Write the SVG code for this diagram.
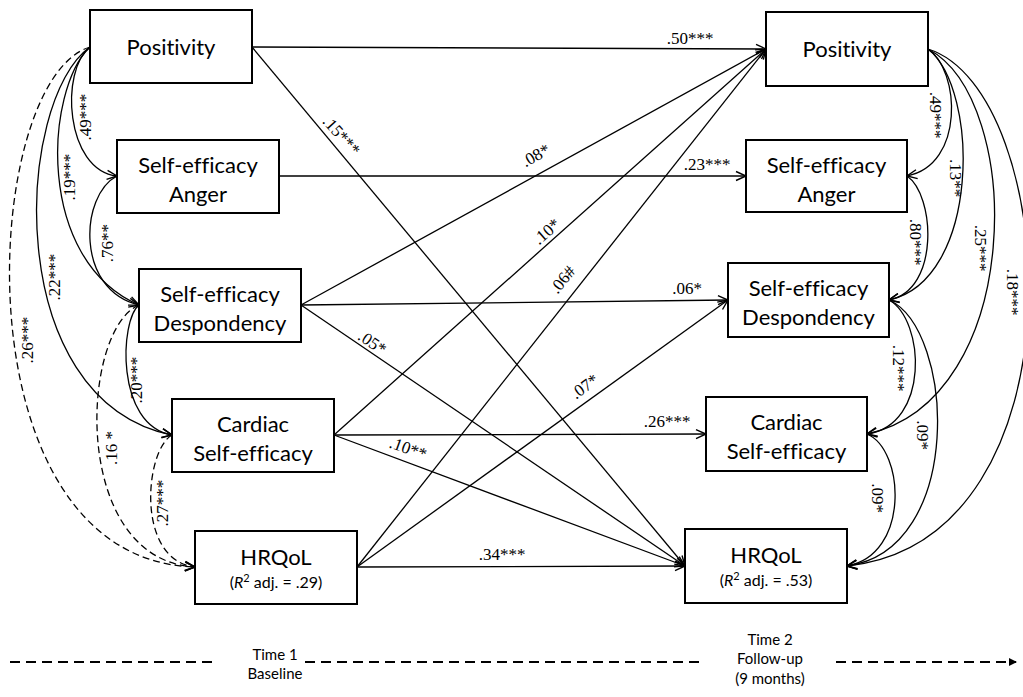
<svg xmlns="http://www.w3.org/2000/svg" width="1023" height="697" viewBox="0 0 1023 697">
  <style>
    .box { fill: #fff; stroke: #000; stroke-width: 2; }
    .nt { font-family: Lato, "Open Sans", "Liberation Sans", sans-serif; font-size: 22px; fill: #000; text-anchor: middle; font-variant-ligatures: none; }
    .r2 { font-family: Lato, "Open Sans", "Liberation Sans", sans-serif; font-size: 16px; fill: #000; text-anchor: middle; }
    .ln { fill: none; stroke: #000; stroke-width: 1.3; marker-end: url(#arr); }
    .cv { fill: none; stroke: #000; stroke-width: 1.3; marker-end: url(#arr); }
    .dcv { fill: none; stroke: #000; stroke-width: 1.3; stroke-dasharray: 7 4; marker-end: url(#arr); }
    .lb { font-family: "Liberation Serif", "Times New Roman", serif; font-size: 17px; fill: #000; text-anchor: middle; }
    .tl { fill: none; stroke: #000; stroke-width: 2; stroke-dasharray: 10 6; }
    .tt { font-family: Lato, "Open Sans", "Liberation Sans", sans-serif; font-size: 15px; fill: #000; text-anchor: middle; }
  </style>
  <defs>
    <marker id="arr" viewBox="0 0 12 10" refX="11" refY="5" markerWidth="12" markerHeight="10" markerUnits="userSpaceOnUse" orient="auto" overflow="visible">
      <path d="M1,0.5 L11,5 L1,9.5" fill="none" stroke="#000" stroke-width="1.4"/>
    </marker>
    <marker id="tarr" viewBox="0 0 8 8" refX="7" refY="4" markerWidth="8" markerHeight="8" markerUnits="userSpaceOnUse" orient="auto">
      <path d="M0,0 L8,4 L0,8 Z" fill="#000"/>
    </marker>
  </defs>

  <!-- connectors -->
  <g id="connectors">
    <!-- cross-lagged paths, Time 1 to Time 2 -->
    <line class="ln" x1="252" y1="47" x2="766" y2="49"/>
    <line class="ln" x1="252" y1="47" x2="685" y2="566"/>
    <line class="ln" x1="279" y1="176" x2="746" y2="176"/>
    <line class="ln" x1="301" y1="305" x2="766" y2="49"/>
    <line class="ln" x1="301" y1="305" x2="728" y2="300"/>
    <line class="ln" x1="301" y1="305" x2="685" y2="566"/>
    <line class="ln" x1="334" y1="435" x2="766" y2="49"/>
    <line class="ln" x1="334" y1="435" x2="706" y2="434"/>
    <line class="ln" x1="334" y1="435" x2="685" y2="566"/>
    <line class="ln" x1="357" y1="567" x2="766" y2="49"/>
    <line class="ln" x1="357" y1="567" x2="728" y2="300"/>
    <line class="ln" x1="357" y1="567" x2="685" y2="566"/>

    <!-- Time 1 associations -->
    <path class="cv" d="M90,47 C60,70 65,170 117,176"/>
    <path class="cv" d="M90,47 C45,90 35,260 139,305"/>
    <path class="cv" d="M90,47 C15,100 0,400 172,435"/>
    <path class="dcv" d="M90,47 C-20,80 -45,560 195,567"/>
    <path class="cv" d="M117,176 C80,195 75,290 139,305"/>
    <path class="cv" d="M139,305 C120,320 115,425 172,435"/>
    <path class="dcv" d="M139,305 C80,330 70,560 195,567"/>
    <path class="dcv" d="M172,435 C145,450 135,560 195,567"/>

    <!-- Time 2 associations -->
    <path class="cv" d="M928,49 C960,70 965,165 907,176"/>
    <path class="cv" d="M928,49 C980,90 980,280 889,300"/>
    <path class="cv" d="M928,49 C1025,100 1025,400 867,434"/>
    <path class="cv" d="M928,49 C1060,90 1090,540 847,566"/>
    <path class="cv" d="M907,176 C935,195 940,290 889,300"/>
    <path class="cv" d="M889,300 C925,320 930,425 867,434"/>
    <path class="cv" d="M889,300 C955,330 965,550 847,566"/>
    <path class="cv" d="M867,434 C905,450 910,555 847,566"/>
  </g>

  <!-- path coefficients -->
  <g id="labels">
    <text class="lb" x="690" y="44">.50***</text>
    <text class="lb" transform="translate(341,136) rotate(48)" y="5">.15***</text>
    <text class="lb" transform="translate(536,156) rotate(-29)" y="5">.08*</text>
    <text class="lb" x="707" y="170">.23***</text>
    <text class="lb" transform="translate(547,232) rotate(-41)" y="5">.10*</text>
    <text class="lb" transform="translate(563,280) rotate(-51)" y="5">.06#</text>
    <text class="lb" x="687" y="294">.06*</text>
    <text class="lb" transform="translate(372,343) rotate(34)" y="5">.05*</text>
    <text class="lb" transform="translate(585,387) rotate(-36)" y="5">.07*</text>
    <text class="lb" x="667" y="427">.26***</text>
    <text class="lb" transform="translate(408,449) rotate(20)" y="5">.10**</text>
    <text class="lb" x="502" y="560">.34***</text>

    <text class="lb" transform="translate(86,117) rotate(-90)" y="5">.49***</text>
    <text class="lb" transform="translate(70,177) rotate(-90)" y="5">.19***</text>
    <text class="lb" transform="translate(108,243) rotate(-90)" y="5">.76**</text>
    <text class="lb" transform="translate(55,277) rotate(-90)" y="5">.22***</text>
    <text class="lb" transform="translate(28,340) rotate(-90)" y="5">.26***</text>
    <text class="lb" transform="translate(137,380) rotate(-90)" y="5">.20***</text>
    <text class="lb" transform="translate(112,448) rotate(-90)" y="5">.16 *</text>
    <text class="lb" transform="translate(163,503) rotate(-90)" y="5">.27***</text>

    <text class="lb" transform="translate(935,115) rotate(90)" y="5">.49***</text>
    <text class="lb" transform="translate(955,178) rotate(90)" y="5">.13**</text>
    <text class="lb" transform="translate(915,242) rotate(90)" y="5">.80***</text>
    <text class="lb" transform="translate(980,248) rotate(90)" y="5">.25***</text>
    <text class="lb" transform="translate(1012,292) rotate(90)" y="5">.18***</text>
    <text class="lb" transform="translate(898,368) rotate(90)" y="5">.12***</text>
    <text class="lb" transform="translate(922,435) rotate(90)" y="5">.09*</text>
    <text class="lb" transform="translate(877,498) rotate(90)" y="5">.09*</text>
  </g>

  <!-- Time 1 nodes -->
  <g id="t1-positivity">
    <rect class="box" x="90" y="10" width="162" height="73"/>
    <text class="nt" x="171" y="55">Positivity</text>
  </g>
  <g id="t1-anger">
    <rect class="box" x="117" y="140" width="162" height="73"/>
    <text class="nt" x="198" y="173">Self-efficacy</text>
    <text class="nt" x="198" y="202">Anger</text>
  </g>
  <g id="t1-despondency">
    <rect class="box" x="139" y="269" width="162" height="73"/>
    <text class="nt" x="220" y="302">Self-efficacy</text>
    <text class="nt" x="220" y="331">Despondency</text>
  </g>
  <g id="t1-cardiac">
    <rect class="box" x="172" y="399" width="162" height="73"/>
    <text class="nt" x="253" y="432">Cardiac</text>
    <text class="nt" x="253" y="461">Self-efficacy</text>
  </g>
  <g id="t1-hrqol">
    <rect class="box" x="195" y="531" width="162" height="73"/>
    <text class="nt" x="276" y="565">HRQoL</text>
    <text class="r2" x="276" y="588">(<tspan font-style="italic">R</tspan><tspan font-size="11" dy="-6">2</tspan><tspan dy="6"> adj. = .29)</tspan></text>
  </g>

  <!-- Time 2 nodes -->
  <g id="t2-positivity">
    <rect class="box" x="766" y="12" width="162" height="74"/>
    <text class="nt" x="847" y="57">Positivity</text>
  </g>
  <g id="t2-anger">
    <rect class="box" x="746" y="140" width="161" height="72"/>
    <text class="nt" x="826.5" y="173">Self-efficacy</text>
    <text class="nt" x="826.5" y="202">Anger</text>
  </g>
  <g id="t2-despondency">
    <rect class="box" x="728" y="263" width="161" height="74"/>
    <text class="nt" x="808.5" y="296">Self-efficacy</text>
    <text class="nt" x="808.5" y="325">Despondency</text>
  </g>
  <g id="t2-cardiac">
    <rect class="box" x="706" y="397" width="161" height="74"/>
    <text class="nt" x="786.5" y="430">Cardiac</text>
    <text class="nt" x="786.5" y="459">Self-efficacy</text>
  </g>
  <g id="t2-hrqol">
    <rect class="box" x="685" y="529" width="162" height="74"/>
    <text class="nt" x="766" y="563">HRQoL</text>
    <text class="r2" x="766" y="586">(<tspan font-style="italic">R</tspan><tspan font-size="11" dy="-6">2</tspan><tspan dy="6"> adj. = .53)</tspan></text>
  </g>

  <!-- time axis -->
  <g id="timeline">
    <line class="tl" x1="10" y1="662" x2="212" y2="662"/>
    <line class="tl" x1="305" y1="662" x2="702" y2="662"/>
    <line class="tl" x1="836" y1="662" x2="1016" y2="662" marker-end="url(#tarr)"/>
    <text class="tt" x="275" y="660">Time 1</text>
    <text class="tt" x="275" y="679">Baseline</text>
    <text class="tt" x="770" y="645">Time 2</text>
    <text class="tt" x="770" y="664">Follow-up</text>
    <text class="tt" x="770" y="684">(9 months)</text>
  </g>
</svg>
